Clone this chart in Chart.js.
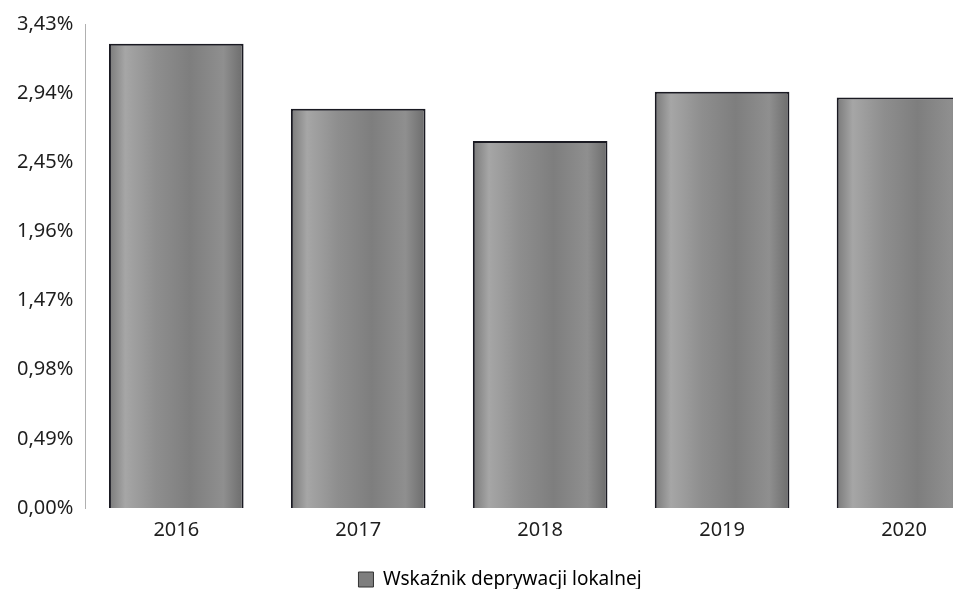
<!DOCTYPE html>
<html lang="pl">
<head>
    <meta charset="UTF-8">
    <title>Wskaźnik deprywacji lokalnej</title>
    <style>
        html, body {margin: 0;
                    padding: 0;
                    background: #fff;
                    overflow: hidden;}

        #wrap {width: 1000px;
               height: 589px;}
    </style>
    <script src="https://cdn.jsdelivr.net/npm/chart.js"></script>
</head>
<body>
    <div id="wrap"><canvas id="chart"></canvas></div>

    <script>
        const lata = ['2016', '2017', '2018', '2019', '2020'];
        const wartosci = [3.29, 2.83, 2.60, 2.95, 2.91];
        const podzialka = [0, 0.49, 0.98, 1.47, 1.96, 2.45, 2.94, 3.43];
        const nazwaSerii = 'Wskaźnik deprywacji lokalnej';

        const szerokoscSlupka = 0.74;

        function format(v) {
            return v.toFixed(2).replace('.', ',') + '%';}

        // szary gradient w poprzek slupka, jak na skanie
        function tloSlupka(ctx) {
            const chart = ctx.chart;
            const x = chart.scales && chart.scales.x;
            if (!chart.chartArea || !x || ctx.dataIndex === undefined) return '#8a8a8a';
            const srodek = x.getPixelForValue(ctx.dataIndex);
            const pol = x.width / lata.length * szerokoscSlupka / 2;
            const g = chart.ctx.createLinearGradient(srodek - pol, 0, srodek + pol, 0);
            g.addColorStop(0, '#7a7a7a');
            g.addColorStop(0.12, '#a6a6a6');
            g.addColorStop(0.35, '#8e8e8e');
            g.addColorStop(0.6, '#7e7e7e');
            g.addColorStop(0.85, '#8f8f8f');
            g.addColorStop(1, '#6c6c6c');
            return g;}

        Chart.defaults.font.family = '"Noto Sans", "Open Sans", sans-serif';
        Chart.defaults.color = '#1e1e1e';

        new Chart(document.getElementById('chart'), {
            type: 'bar',
            data: {
                labels: lata,
                datasets: [{
                    label: nazwaSerii,
                    data: wartosci,
                    backgroundColor: tloSlupka,
                    borderColor: '#1a1a22',
                    borderWidth: {left: 2, right: 2, top: 2, bottom: 0},
                    borderSkipped: 'bottom',
                    barPercentage: szerokoscSlupka,
                    categoryPercentage: 1}]},
            options: {
                responsive: true,
                maintainAspectRatio: false,
                animation: false,
                layout: {padding: {top: 14, left: 5, right: 5, bottom: -10}},
                plugins: {
                    tooltip: {enabled: false},
                    legend: {
                        position: 'bottom',
                        labels: {
                            font: {size: 19},
                            boxWidth: 15,
                            boxHeight: 15,
                            padding: 4,
                            generateLabels: chart => [{
                                text: nazwaSerii,
                                fillStyle: '#7e7e7e',
                                strokeStyle: '#333',
                                lineWidth: 1,
                                datasetIndex: 0}]}}},
                scales: {
                    x: {
                        grid: {display: false, drawTicks: false},
                        border: {display: false},
                        afterFit: skala => { skala.height += 14; },
                        ticks: {font: {size: 20}, padding: 10}},
                    y: {
                        min: 0,
                        max: 3.43,
                        afterBuildTicks: axis => {
                            axis.ticks = podzialka.map(v => ({value: v}));},
                        grid: {display: false, drawTicks: false},
                        border: {display: true, color: '#b0b0b0', dash: [2, 2], width: 1},
                        ticks: {
                            font: {size: 20},
                            padding: 12,
                            callback: v => format(v)}}}}});
    </script>
</body>
</html>
